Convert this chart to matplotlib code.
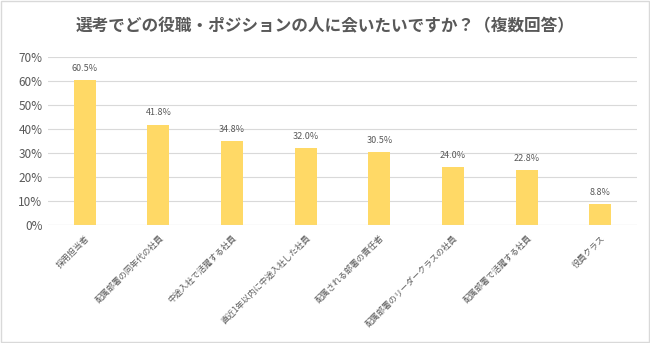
import matplotlib.pyplot as plt
from matplotlib.patches import Rectangle

plt.rcParams['font.family'] = ['Noto Sans CJK JP', 'DejaVu Sans']

categories = ['採用担当者', '配属部署の同年代の社員', '中途入社で活躍する社員', '直近1年以内に中途入社した社員',
              '配属される部署の責任者', '配属部署のリーダークラスの社員', '配属部署で活躍する社員', '役員クラス']
values = [60.5, 41.8, 34.8, 32.0, 30.5, 24.0, 22.8, 8.8]
yticks = [0, 10, 20, 30, 40, 50, 60, 70]

grey = '#595959'
fig = plt.figure(figsize=(6.5, 3.43), dpi=100)
ax = fig.add_axes([48 / 650, 1 - 225 / 343, 589 / 650, 168 / 343])

x = range(len(categories))
ax.bar(x, values, width=0.3, color='#FFD966', zorder=2)
for i, v in enumerate(values):
    ax.text(i, v + 3, f'{v:.1f}%', ha='center', va='bottom', fontsize=6.5, color=grey)

ax.set_xlim(-0.5, len(categories) - 0.5)
ax.set_ylim(0, 70)
ax.set_yticks(yticks)
ax.set_yticklabels([f'{t}%' for t in yticks], fontsize=8.5, color=grey)
ax.set_xticks(list(x))
ax.set_xticklabels(categories, rotation=45, ha='right', rotation_mode='anchor', fontsize=6, color=grey)
ax.tick_params(length=0, pad=4)
ax.tick_params(axis='x', pad=6)
ax.grid(axis='y', color='#d9d9d9', linewidth=0.8, zorder=0)
for s in ax.spines.values():
    s.set_visible(False)
ax.axhline(0, color='#d9d9d9', linewidth=0.8, zorder=3)

fig.text(0.5, 1 - 26 / 343, '選考でどの役職・ポジションの人に会いたいですか？（複数回答）',
         ha='center', va='center', fontsize=12, fontweight='bold', color=grey)
fig.patches.append(Rectangle((0.002, 0.003), 0.996, 0.994, transform=fig.transFigure,
                             fill=False, edgecolor='#d9d9d9', linewidth=1))

fig.savefig('out.png', dpi=100)
